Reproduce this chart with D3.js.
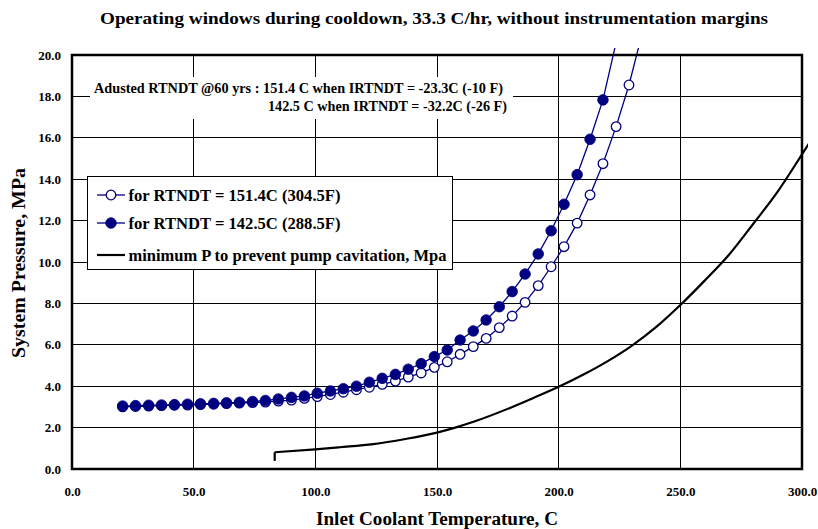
<!DOCTYPE html>
<html>
<head>
<meta charset="utf-8">
<script src="https://cdn.jsdelivr.net/npm/d3@7"></script>
<style>
html,body{margin:0;padding:0;background:#fff;}
text{font-family:"Liberation Serif","Times New Roman",serif;font-weight:bold;}
</style>
</head>
<body>
<svg id="chart" width="818" height="529"></svg>
<script>
// ---- data ----
const titleText = "Operating windows during cooldown, 33.3 C/hr, without instrumentation margins";
const xTitle = "Inlet Coolant Temperature, C";
const yTitle = "System Pressure, MPa";
const xTicks = [0, 50, 100, 150, 200, 250, 300];
const yTicks = [0, 2, 4, 6, 8, 10, 12, 14, 16, 18, 20];
const seriesNames = ["for RTNDT = 151.4C (304.5F)", "for RTNDT = 142.5C (288.5F)", "minimum P to prevent pump cavitation, Mpa"];
const noteLine1 = "Adusted RTNDT @60 yrs : 151.4 C when IRTNDT = -23.3C (-10 F)";
const noteLine2 = "142.5 C when IRTNDT = -32.2C (-26 F)";

// temperatures (C) shared by both P-T limit curves
const tempC = [20.8, 26.1, 31.5, 36.8, 42.1, 47.5, 52.8, 58.2, 63.5, 68.8,
  74.2, 79.5, 84.8, 90.2, 95.5, 100.8, 106.2, 111.5, 116.9, 122.2,
  127.5, 132.9, 138.2, 143.5, 148.9, 154.2, 159.5, 164.9, 170.2, 175.6,
  180.9, 186.2, 191.6, 196.9, 202.2, 207.6, 212.9, 218.2, 223.6, 228.9, 234.2];
// RTNDT = 151.4C (open circles)
const pOpen = [3.00, 3.02, 3.04, 3.06, 3.08, 3.09, 3.11, 3.13, 3.16, 3.18,
  3.21, 3.23, 3.28, 3.33, 3.41, 3.50, 3.60, 3.71, 3.83, 3.95,
  4.09, 4.25, 4.44, 4.64, 4.91, 5.18, 5.54, 5.91, 6.31, 6.83,
  7.39, 8.05, 8.86, 9.77, 10.74, 11.88, 13.24, 14.75, 16.54, 18.55, 21.0];
// RTNDT = 142.5C (filled circles)
const pFilled = [3.04, 3.06, 3.08, 3.09, 3.11, 3.13, 3.15, 3.17, 3.20, 3.22,
  3.26, 3.31, 3.38, 3.46, 3.53, 3.66, 3.77, 3.88, 4.00, 4.19,
  4.38, 4.57, 4.82, 5.09, 5.43, 5.75, 6.23, 6.67, 7.20, 7.84,
  8.57, 9.42, 10.39, 11.51, 12.79, 14.22, 15.93, 17.83, 20.6, 23.5, null];
// minimum pressure to prevent pump cavitation
const cavT = [83.3, 83.3, 100, 110, 123.8, 137, 150, 157.5, 165, 180, 190, 200, 210, 220, 230, 240, 250, 260, 270, 280, 290, 300, 303];
const cavP = [0.39, 0.81, 0.95, 1.05, 1.20, 1.45, 1.76, 2.00, 2.28, 2.95, 3.45, 3.97, 4.55, 5.20, 5.95, 6.85, 7.92, 9.10, 10.35, 11.85, 13.40, 15.20, 15.75];

// ---- layout ----
const svg = d3.select("#chart");
const L = 72, R = 802, T = 55, B = 469;
const x = d3.scaleLinear().domain([0, 300]).range([L, R]);
const y = d3.scaleLinear().domain([0, 20]).range([B, T]);
const navy = "#000080";

svg.append("defs").append("clipPath").attr("id", "clip")
  .append("rect").attr("x", L).attr("y", T - 7).attr("width", R - L + 6).attr("height", B - T + 7);

// gridlines
const grid = svg.append("g").attr("shape-rendering", "crispEdges");
grid.selectAll("line.h").data(yTicks.slice(1, -1)).enter().append("line")
  .attr("x1", L).attr("x2", R).attr("y1", d => y(d)).attr("y2", d => y(d))
  .attr("stroke", "#000").attr("stroke-width", 1);
grid.selectAll("line.v").data(xTicks.slice(1, -1)).enter().append("line")
  .attr("y1", T).attr("y2", B).attr("x1", d => x(d)).attr("x2", d => x(d))
  .attr("stroke", "#000").attr("stroke-width", 1);

// annotation background (hides gridlines)
svg.append("rect").attr("x", 90).attr("y", 77).attr("width", 423).attr("height", 42).attr("fill", "#fff");
svg.append("text").attr("x", 94).attr("y", 93).attr("font-size", 14.5)
  .attr("textLength", 409).attr("lengthAdjust", "spacingAndGlyphs").text(noteLine1);
svg.append("text").attr("x", 268).attr("y", 111).attr("font-size", 14.5)
  .attr("textLength", 239).attr("lengthAdjust", "spacingAndGlyphs").text(noteLine2);

// axes
const xAxis = d3.axisBottom(x).tickValues(xTicks).tickSize(0).tickPadding(18).tickFormat(d3.format(".1f"));
const gx = svg.append("g").attr("transform", `translate(0,${B})`).call(xAxis);
gx.select(".domain").remove();
gx.selectAll("text").attr("font-size", 13).attr("fill", "#000").style("font-family", "'Liberation Serif',serif").style("font-weight", "bold");
const yAxis = d3.axisLeft(y).tickValues(yTicks).tickSize(0).tickPadding(11).tickFormat(d3.format(".1f"));
const gy = svg.append("g").attr("transform", `translate(${L},0)`).call(yAxis);
gy.select(".domain").remove();
gy.selectAll("text").attr("font-size", 13).attr("fill", "#000").style("font-family", "'Liberation Serif',serif").style("font-weight", "bold");

// series
const plot = svg.append("g").attr("clip-path", "url(#clip)");
const line = d3.line().defined(d => d[1] != null).x(d => x(d[0])).y(d => y(d[1]));
const openPts = tempC.map((t, i) => [t, pOpen[i]]);
const filledPts = tempC.map((t, i) => [t, pFilled[i]]);
const cavPts = cavT.map((t, i) => [t, cavP[i]]);

// cavitation curve: vertical start then smooth
const cavPath = d3.path();
cavPath.moveTo(x(cavPts[0][0]), y(cavPts[0][1]));
cavPath.lineTo(x(cavPts[1][0]), y(cavPts[1][1]));
plot.append("path").attr("d", cavPath.toString())
  .attr("fill", "none").attr("stroke", "#000").attr("stroke-width", 2.2);
plot.append("path").datum(cavPts.slice(1))
  .attr("d", d3.line().x(d => x(d[0])).y(d => y(d[1])).curve(d3.curveMonotoneX))
  .attr("fill", "none").attr("stroke", "#000").attr("stroke-width", 2.2).attr("stroke-linejoin", "round");

plot.append("path").datum(openPts).attr("d", line)
  .attr("fill", "none").attr("stroke", navy).attr("stroke-width", 1.3);
plot.selectAll("circle.o").data(openPts.filter(d => d[1] != null && d[1] <= 20)).enter().append("circle")
  .attr("cx", d => x(d[0])).attr("cy", d => y(d[1])).attr("r", 4.8)
  .attr("fill", "#fff").attr("stroke", navy).attr("stroke-width", 1.3);

plot.append("path").datum(filledPts).attr("d", line)
  .attr("fill", "none").attr("stroke", navy).attr("stroke-width", 1.3);
plot.selectAll("circle.f").data(filledPts.filter(d => d[1] != null && d[1] <= 20)).enter().append("circle")
  .attr("cx", d => x(d[0])).attr("cy", d => y(d[1])).attr("r", 5.3)
  .attr("fill", navy).attr("stroke", navy).attr("stroke-width", 0.8);

// plot border
svg.append("rect").attr("x", L).attr("y", T).attr("width", R - L).attr("height", B - T)
  .attr("fill", "none").attr("stroke", "#000").attr("stroke-width", 2.5);

// legend
const lg = svg.append("g");
lg.append("rect").attr("x", 87.5).attr("y", 176.5).attr("width", 365).attr("height", 93)
  .attr("fill", "#fff").attr("stroke", "#000").attr("stroke-width", 1).attr("shape-rendering", "crispEdges");
const rows = [195, 223, 255];
const legendWidths = [212, 212, 318];
rows.forEach((ry, i) => {
  lg.append("line").attr("x1", 97).attr("x2", 125).attr("y1", ry).attr("y2", ry)
    .attr("stroke", i === 2 ? "#000" : navy).attr("stroke-width", i === 2 ? 2.2 : 1.3);
  if (i < 2) {
    lg.append("circle").attr("cx", 111).attr("cy", ry).attr("r", i === 0 ? 4.8 : 5.3)
      .attr("fill", i === 0 ? "#fff" : navy).attr("stroke", navy).attr("stroke-width", i === 0 ? 1.3 : 0.8);
  }
  lg.append("text").attr("x", 128.5).attr("y", ry + 5.5).attr("font-size", 16.5)
    .attr("textLength", legendWidths[i]).attr("lengthAdjust", "spacingAndGlyphs").text(seriesNames[i]);
});

// titles
svg.append("text").attr("x", 100).attr("y", 24).attr("font-size", 17.5)
  .attr("textLength", 668).attr("lengthAdjust", "spacingAndGlyphs").text(titleText);
svg.append("text").attr("x", 316).attr("y", 525).attr("font-size", 18.5)
  .attr("textLength", 242).attr("lengthAdjust", "spacingAndGlyphs").text(xTitle);
svg.append("text").attr("transform", "translate(25,358) rotate(-90)").attr("font-size", 18.5)
  .attr("textLength", 190).attr("lengthAdjust", "spacingAndGlyphs").text(yTitle);
</script>
</body>
</html>
